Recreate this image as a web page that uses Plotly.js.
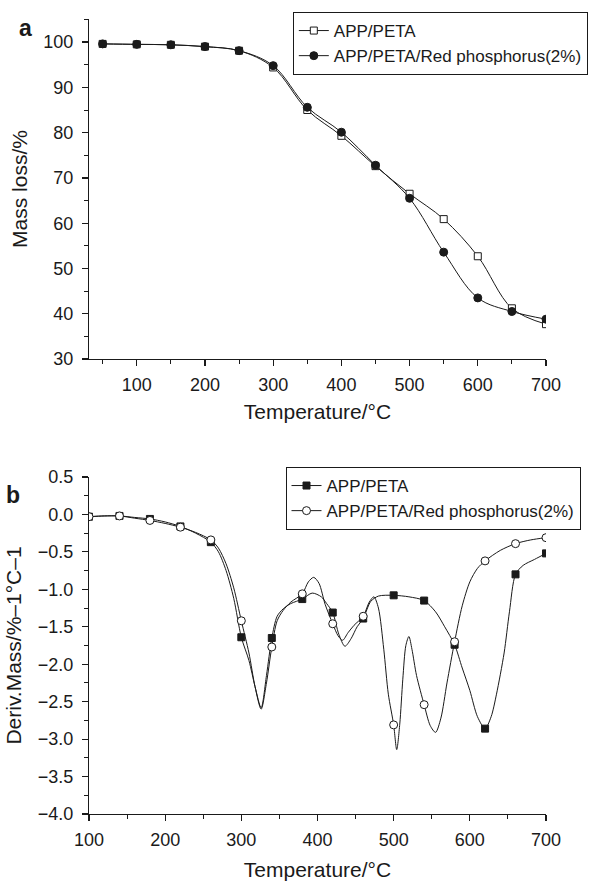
<!DOCTYPE html>
<html>
<head>
<meta charset="utf-8">
<script src="https://cdn.plot.ly/plotly-3.0.1.min.js"></script>
<style>html,body{margin:0;padding:0;background:#fff;}#chart{width:604px;height:881px;}</style>
</head>
<body>
<div id="chart"></div>
<script>
// ---- Panel a: TGA mass loss ----
const temps = [50,100,150,200,250,300,350,400,450,500,550,600,650,700];
const massAPP = [99.6,99.5,99.4,99.0,98.1,94.4,85.0,79.3,72.6,66.5,60.9,52.7,41.2,37.7];
const massRP  = [99.6,99.5,99.4,99.0,98.1,94.8,85.6,80.1,72.8,65.5,53.6,43.5,40.5,38.8];

// ---- Panel b: DTG, marker points ----
const markT   = [100,140,180,220,260,300,340,380,420,460,500,540,580,620,660,700];
const markAPP = [-0.03,-0.02,-0.06,-0.16,-0.37,-1.64,-1.65,-1.13,-1.31,-1.39,-1.08,-1.15,-1.74,-2.86,-0.80,-0.52];
const markRP  = [-0.03,-0.02,-0.08,-0.17,-0.34,-1.42,-1.77,-1.06,-1.46,-1.36,-2.81,-2.54,-1.70,-0.62,-0.39,-0.31];

// ---- Panel b: DTG, curves ----
const curveT_APP = [100,120,140,160,180,200,220,240,260,270,280,290,300,310,318,326,333,340,347,355,365,380,393,405,412,420,428,436,444,452,460,470,480,500,520,540,555,567,580,590,600,610,620,628,635,645,652,660,670,685,700];
const curveAPP   = [-0.03,-0.02,-0.02,-0.04,-0.06,-0.10,-0.16,-0.25,-0.37,-0.50,-0.75,-1.12,-1.64,-1.95,-2.30,-2.58,-2.15,-1.65,-1.36,-1.26,-1.19,-1.13,-1.05,-1.10,-1.19,-1.31,-1.60,-1.76,-1.66,-1.50,-1.39,-1.16,-1.09,-1.08,-1.10,-1.15,-1.30,-1.50,-1.74,-2.05,-2.35,-2.70,-2.86,-2.70,-2.40,-1.85,-1.30,-0.80,-0.68,-0.60,-0.52];
const curveT_RP  = [100,120,140,160,180,200,220,240,260,270,280,290,300,310,318,326,333,340,347,355,365,380,388,395,402,410,420,427,433,440,448,460,468,474,480,487,493,500,504,508,512,516,520,524,530,540,548,555,562,570,580,590,600,610,620,640,660,680,700];
const curveRP    = [-0.03,-0.02,-0.02,-0.05,-0.08,-0.12,-0.17,-0.24,-0.34,-0.45,-0.66,-0.98,-1.42,-1.85,-2.30,-2.60,-2.25,-1.77,-1.42,-1.28,-1.17,-1.06,-0.90,-0.84,-0.92,-1.20,-1.46,-1.62,-1.68,-1.58,-1.48,-1.36,-1.17,-1.10,-1.25,-1.80,-2.40,-2.81,-3.14,-2.80,-2.20,-1.75,-1.63,-1.80,-2.15,-2.54,-2.82,-2.91,-2.72,-2.25,-1.70,-1.22,-0.90,-0.72,-0.62,-0.48,-0.39,-0.34,-0.31];

const nameAPP = 'APP/PETA';
const nameRP = 'APP/PETA/Red phosphorus(2%)';

const FONT = 'Liberation Sans, Arial, Helvetica, sans-serif';
const INK = '#1a1a1a';

const traces = [
  // panel a
  {x: temps, y: massAPP, name: nameAPP, type: 'scatter', mode: 'lines+markers',
   line: {color: INK, width: 1, shape: 'spline', smoothing: 1},
   marker: {symbol: 'square', size: 7, color: '#fff', line: {color: INK, width: 1}},
   xaxis: 'x', yaxis: 'y', legend: 'legend'},
  {x: temps, y: massRP, name: nameRP, type: 'scatter', mode: 'lines+markers',
   line: {color: INK, width: 1, shape: 'spline', smoothing: 1},
   marker: {symbol: 'circle', size: 8, color: INK, line: {color: INK, width: 1}},
   xaxis: 'x', yaxis: 'y', legend: 'legend'},
  // panel b curves
  {x: curveT_APP, y: curveAPP, type: 'scatter', mode: 'lines', showlegend: false,
   line: {color: INK, width: 1, shape: 'spline', smoothing: 0.8}, xaxis: 'x2', yaxis: 'y2'},
  {x: curveT_RP, y: curveRP, type: 'scatter', mode: 'lines', showlegend: false,
   line: {color: INK, width: 1, shape: 'spline', smoothing: 0.8}, xaxis: 'x2', yaxis: 'y2'},
  // panel b markers
  {x: markT, y: markAPP, type: 'scatter', mode: 'markers', showlegend: false,
   marker: {symbol: 'square', size: 7, color: INK, line: {color: INK, width: 1}}, xaxis: 'x2', yaxis: 'y2'},
  {x: markT, y: markRP, type: 'scatter', mode: 'markers', showlegend: false,
   marker: {symbol: 'circle', size: 8, color: '#fff', line: {color: INK, width: 1}}, xaxis: 'x2', yaxis: 'y2'},
  // panel b legend entries
  {x: [null], y: [null], name: nameAPP, type: 'scatter', mode: 'lines+markers',
   line: {color: INK, width: 1}, marker: {symbol: 'square', size: 7, color: INK, line: {color: INK, width: 1}},
   xaxis: 'x2', yaxis: 'y2', legend: 'legend2'},
  {x: [null], y: [null], name: nameRP, type: 'scatter', mode: 'lines+markers',
   line: {color: INK, width: 1}, marker: {symbol: 'circle', size: 8, color: '#fff', line: {color: INK, width: 1}},
   xaxis: 'x2', yaxis: 'y2', legend: 'legend2'}
];

const TICKFONT = {family: FONT, size: 18, color: INK};
const TITLEFONT = {family: FONT, size: 21, color: INK};
const LEGFONT = {family: FONT, size: 17, color: INK};

const axisBase = {
  showline: true, linecolor: INK, linewidth: 1.2, mirror: false,
  showgrid: false, zeroline: false,
  ticks: 'outside', ticklen: 6, tickwidth: 1.2, tickcolor: INK,
  tickfont: TICKFONT,
  fixedrange: true
};

const layout = {
  width: 604, height: 881,
  margin: {l: 89, r: 58, t: 19, b: 67},
  paper_bgcolor: '#fff', plot_bgcolor: '#fff',
  font: {family: FONT, color: INK},
  xaxis: Object.assign({}, axisBase, {
    domain: [0, 1], anchor: 'y', range: [30, 700], tick0: 0, dtick: 100,
    minor: {ticks: 'outside', dtick: 50, ticklen: 4, tickcolor: INK, tickwidth: 1},
    ticklabelstandoff: 3,
    title: {text: 'Temperature/°C', font: TITLEFONT, standoff: 10}
  }),
  yaxis: Object.assign({}, axisBase, {
    domain: [0.5723, 1], anchor: 'x', range: [30, 105.1], tick0: 0, dtick: 10,
    minor: {ticks: 'outside', dtick: 5, ticklen: 4, tickcolor: INK, tickwidth: 1},
    ticklabelstandoff: 5,
    title: {text: 'Mass loss/%', font: TITLEFONT, standoff: 9}
  }),
  xaxis2: Object.assign({}, axisBase, {
    domain: [0, 1], anchor: 'y2', range: [100, 700], tick0: 0, dtick: 100,
    minor: {ticks: 'outside', dtick: 50, ticklen: 4, tickcolor: INK, tickwidth: 1},
    ticklabelstandoff: 3,
    title: {text: 'Temperature/°C', font: TITLEFONT, standoff: 16}
  }),
  yaxis2: Object.assign({}, axisBase, {
    domain: [0, 0.4239], anchor: 'x2', range: [-4, 0.5], tick0: 0, dtick: 0.5, tickformat: '.1f',
    minor: {ticks: 'outside', dtick: 0.25, ticklen: 4, tickcolor: INK, tickwidth: 1},
    ticklabelstandoff: 5,
    title: {text: 'Deriv.Mass/%–1°C–1', font: TITLEFONT, standoff: 10}
  }),
  legend: {
    x: 0.446, y: 1.0088, xanchor: 'left', yanchor: 'top',
    bgcolor: '#fff', bordercolor: INK, borderwidth: 1,
    font: LEGFONT, itemwidth: 30, tracegroupgap: 0
  },
  legend2: {
    x: 0.43, y: 0.4365, xanchor: 'left', yanchor: 'top',
    bgcolor: '#fff', bordercolor: INK, borderwidth: 1,
    font: LEGFONT, itemwidth: 30, tracegroupgap: 0
  },
  annotations: [
    {text: '<b>a</b>', xref: 'paper', yref: 'paper', x: -0.140, y: 0.9887, xanchor: 'center', yanchor: 'middle',
     showarrow: false, font: {family: FONT, size: 23, color: INK}},
    {text: '<b>b</b>', xref: 'paper', yref: 'paper', x: -0.166, y: 0.401, xanchor: 'center', yanchor: 'middle',
     showarrow: false, font: {family: FONT, size: 23, color: INK}}
  ],
  showlegend: true
};

Plotly.newPlot('chart', traces, layout, {staticPlot: true, displayModeBar: false});
</script>
</body>
</html>
